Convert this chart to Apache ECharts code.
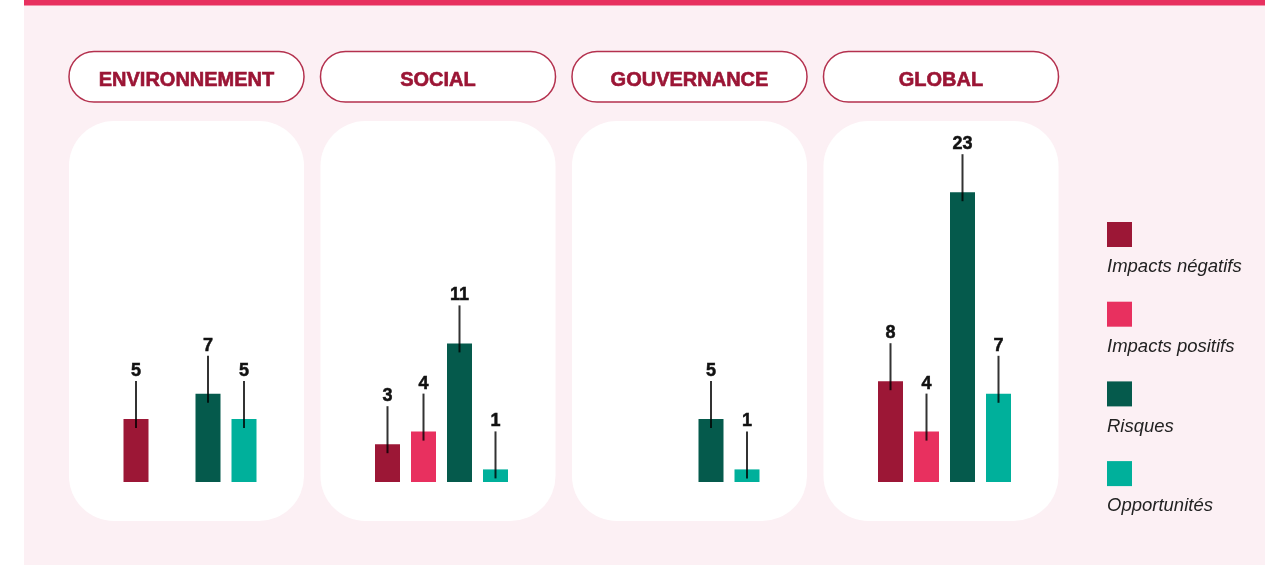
<!DOCTYPE html>
<html>
<head>
<meta charset="utf-8">
<style>
  html, body { margin: 0; padding: 0; background: #ffffff; }
  #chart { width: 1265px; height: 565px; }
</style>
<script src="https://cdn.jsdelivr.net/npm/echarts@6/dist/echarts.min.js"></script>
</head>
<body>
<div id="chart"></div>
<script>
// categories shown in every panel (and in the legend)
const categories = ['Impacts négatifs', 'Impacts positifs', 'Risques', 'Opportunités'];
const colors = ['#9c1736', '#e8305f', '#055a4c', '#00b09b'];

// panel titles
const panels = ['ENVIRONNEMENT', 'SOCIAL', 'GOUVERNANCE', 'GLOBAL'];

// values per panel, null = no bar
const environnement = [5, null, 7, 5];
const social = [3, 4, 11, 1];
const gouvernance = [null, null, 5, 1];
const global = [8, 4, 23, 7];
const panelValues = [environnement, social, gouvernance, global];

const FONT = "'Liberation Sans', Arial, sans-serif";
const panelLeft = [69, 320.5, 572, 823.5];
const panelW = 235;

const chart = echarts.init(document.getElementById('chart'));

function renderItem(params, api) {
  const idx = api.value(0);
  const v = api.value(1);
  const top = api.coord([idx, v]);
  const base = api.coord([idx, 0]);
  const w = 25;
  return {
    type: 'group',
    children: [
      {
        type: 'rect',
        shape: { x: top[0] - w / 2, y: top[1], width: w, height: base[1] - top[1] },
        style: { fill: colors[idx] }
      },
      {
        type: 'line',
        shape: { x1: top[0], y1: top[1] - 38, x2: top[0], y2: top[1] + 9 },
        style: { stroke: 'rgba(0,0,0,0.8)', lineWidth: 2 }
      },
      {
        type: 'text',
        style: {
          text: String(v), x: top[0], y: top[1] - 48,
          align: 'center', verticalAlign: 'middle',
          font: 'bold 18px ' + FONT, fill: '#111',
          stroke: '#111', lineWidth: 0.5
        }
      }
    ]
  };
}

const grids = [], xAxes = [], yAxes = [], series = [];
panelValues.forEach((vals, i) => {
  grids.push({ left: panelLeft[i] + 49, width: 144, top: 167, bottom: 83 });
  xAxes.push({ type: 'category', gridIndex: i, data: categories, show: false });
  yAxes.push({ type: 'value', gridIndex: i, min: 0, max: 25, show: false });
  const data = [];
  vals.forEach((v, k) => { if (v !== null) data.push([k, v]); });
  series.push({
    type: 'custom', name: panels[i], xAxisIndex: i, yAxisIndex: i,
    renderItem: renderItem, encode: { x: 0, y: 1 }, data: data, z: 10
  });
});

// background, header pills, white panels, legend
const graphic = [
  { type: 'rect', left: 24, top: 0, shape: { width: 1241, height: 565 }, style: { fill: '#fcf0f4' }, z: -10 },
  { type: 'rect', left: 24, top: 0, shape: { width: 1241, height: 5.5 }, style: { fill: '#e8305f' }, z: -9 }
];
panels.forEach((name, i) => {
  graphic.push({
    type: 'rect', shape: { x: panelLeft[i], y: 121, width: panelW, height: 400, r: 45 },
    style: { fill: '#ffffff' }, z: -5
  });
  graphic.push({
    type: 'rect', shape: { x: panelLeft[i], y: 51.5, width: panelW, height: 50.5, r: 25 },
    style: { fill: '#ffffff', stroke: '#b4314e', lineWidth: 1.5 }, z: -5
  });
  graphic.push({
    type: 'text', x: panelLeft[i] + panelW / 2, y: 80.5,
    style: {
      text: name, align: 'center', verticalAlign: 'middle',
      font: 'bold 20px ' + FONT, fill: '#9b1535', stroke: '#9b1535', lineWidth: 0.6
    },
    z: -4
  });
});
categories.forEach((c, k) => {
  graphic.push({
    type: 'rect', shape: { x: 1107, y: 222 + k * 79.7, width: 25, height: 25 },
    style: { fill: colors[k] }
  });
  graphic.push({
    type: 'text', x: 1107, y: 267 + k * 79.7,
    style: { text: c, align: 'left', verticalAlign: 'middle', font: 'italic 18.5px ' + FONT, fill: '#222' }
  });
});

chart.setOption({
  animation: false,
  grid: grids,
  xAxis: xAxes,
  yAxis: yAxes,
  series: series,
  graphic: graphic
});
</script>
</body>
</html>
